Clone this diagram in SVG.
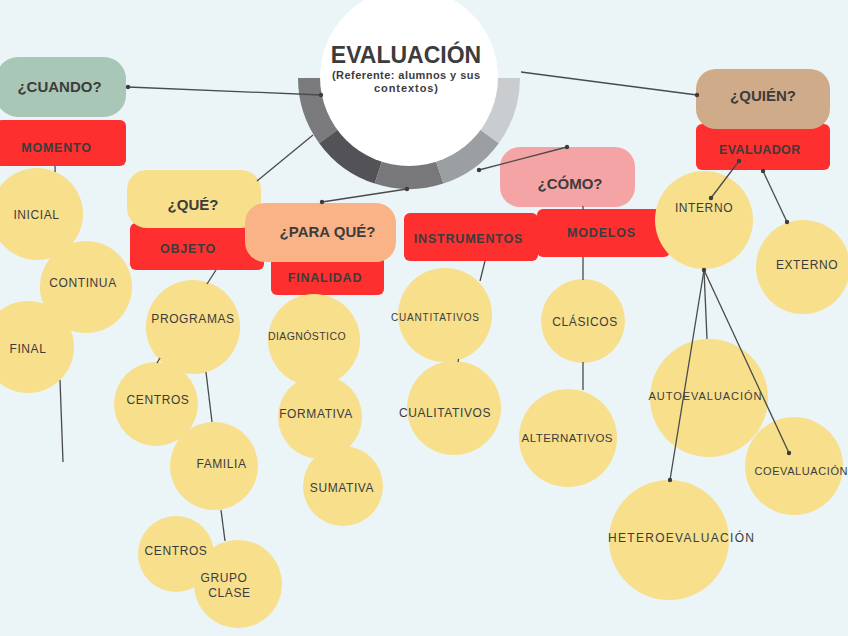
<svg xmlns="http://www.w3.org/2000/svg" width="848" height="636" viewBox="0 0 848 636">
<defs>
<style>
text{font-family:"Liberation Sans",Arial,sans-serif;fill:#3c3c3c;text-anchor:middle}
.h{font-size:15px;font-weight:bold}
.r{font-size:12.5px;font-weight:bold;letter-spacing:0.8px}
.c{font-size:12px;letter-spacing:0.6px}
.s{font-size:10.5px;letter-spacing:0.4px}
.red{fill:#fd2f2f}
.yel{fill:#f7df8c}
.ln{stroke:#4a4a4a;stroke-width:1.3;fill:none}
.dot{fill:#3c3c3c}
</style>
</defs>
<rect width="848" height="636" fill="#ebf4f6"/>

<g id="evaluacion">
<path d="M298,78 A111,111 0 0 0 319.2,143.2 L344.3,125 A80,80 0 0 1 329,78 Z" fill="#7b7b7e"/>
<path d="M319.2,143.2 A111,111 0 0 0 374.7,183.6 L384.3,154.1 A80,80 0 0 1 344.3,125 Z" fill="#535257"/>
<path d="M374.7,183.6 A111,111 0 0 0 443.3,183.6 L433.7,154.1 A80,80 0 0 1 384.3,154.1 Z" fill="#78787b"/>
<path d="M443.3,183.6 A111,111 0 0 0 498.8,143.2 L473.7,125 A80,80 0 0 1 433.7,154.1 Z" fill="#9b9fa2"/>
<path d="M498.8,143.2 A111,111 0 0 0 520,78 L489,78 A80,80 0 0 1 473.7,125 Z" fill="#c9cdd0"/>
<circle cx="409" cy="77" r="89" fill="#ffffff"/>
<text x="406" y="63" style="font-size:23px;font-weight:bold">EVALUACIÓN</text>
<text x="406" y="79" style="font-size:11px;font-weight:bold" textLength="148" lengthAdjust="spacing">(Referente: alumnos y sus</text>
<text x="406" y="92" style="font-size:11px;font-weight:bold" textLength="64" lengthAdjust="spacing">contextos)</text>
</g>

<g id="cuando">
<rect x="-4" y="57" width="130" height="60" rx="22" fill="#a8c7b7"/>
<text class="h" x="59.5" y="92">¿CUANDO?</text>
</g>
<g id="momento">
<rect class="red" x="-4" y="120" width="130" height="46" rx="6"/>
<text class="r" x="56.5" y="152">MOMENTO</text>
</g>
<g id="inicial"><circle class="yel" cx="37" cy="214" r="46"/><text class="c" x="36.5" y="219">INICIAL</text></g>
<g id="continua"><circle class="yel" cx="86" cy="287" r="46"/><text class="c" x="83" y="287">CONTINUA</text></g>
<g id="final"><circle class="yel" cx="28" cy="347" r="46"/><text class="c" x="28" y="353">FINAL</text></g>

<g id="objeto">
<rect class="red" x="130" y="223" width="134" height="47" rx="6"/>
<text class="r" x="188" y="253">OBJETO</text>
</g>
<g id="que">
<rect x="127" y="170" width="134" height="58" rx="20" fill="#f7df8c"/>
<text class="h" x="193" y="210">¿QUÉ?</text>
</g>
<g id="finalidad">
<rect class="red" x="271" y="250" width="113" height="45" rx="6"/>
<text class="r" x="325" y="282">FINALIDAD</text>
</g>
<g id="paraque">
<rect x="245" y="203" width="151" height="59" rx="20" fill="#f9b387"/>
<text class="h" x="327.5" y="237">¿PARA QUÉ?</text>
</g>
<g id="programas"><circle class="yel" cx="193" cy="327" r="47"/><text class="c" x="193" y="323">PROGRAMAS</text></g>
<g id="centros1"><circle class="yel" cx="156" cy="404" r="42"/><text class="c" x="158" y="404">CENTROS</text></g>
<g id="familia"><circle class="yel" cx="214" cy="466" r="44"/><text class="c" x="221.5" y="468">FAMILIA</text></g>
<g id="centros2"><circle class="yel" cx="176" cy="554" r="38"/><text class="c" x="176" y="555">CENTROS</text></g>
<g id="grupoclase"><circle class="yel" cx="238" cy="584" r="44"/><text class="c" x="224" y="582">GRUPO</text><text class="c" x="229.5" y="597">CLASE</text></g>

<g id="diagnostico"><circle class="yel" cx="314" cy="340" r="46"/><text class="s" x="307" y="340">DIAGNÓSTICO</text></g>
<g id="formativa"><circle class="yel" cx="320" cy="417" r="42"/><text class="c" x="316" y="418">FORMATIVA</text></g>
<g id="sumativa"><circle class="yel" cx="343" cy="486" r="40"/><text class="c" x="342" y="492">SUMATIVA</text></g>

<g id="instrumentos">
<rect class="red" x="404" y="213" width="134" height="48" rx="6"/>
<text class="r" x="468.5" y="243">INSTRUMENTOS</text>
</g>
<g id="modelos">
<rect class="red" x="537" y="209" width="133" height="48" rx="6"/>
<text class="r" x="601.5" y="237">MODELOS</text>
</g>
<g id="como">
<rect x="500" y="147" width="135" height="60" rx="20" fill="#f5a4a6"/>
<text class="h" x="570" y="189">¿CÓMO?</text>
</g>
<g id="cuantitativos"><circle class="yel" cx="445" cy="315" r="47"/><text x="435" y="321" style="font-size:10px" textLength="88" lengthAdjust="spacing">CUANTITATIVOS</text></g>
<g id="cualitativos"><circle class="yel" cx="454" cy="408" r="47"/><text class="c" x="445" y="417">CUALITATIVOS</text></g>
<g id="clasicos"><circle class="yel" cx="583" cy="321" r="42"/><text class="c" x="585" y="326">CLÁSICOS</text></g>
<g id="alternativos"><circle class="yel" cx="568" cy="438" r="49"/><text x="567" y="442" style="font-size:11.5px" textLength="91" lengthAdjust="spacing">ALTERNATIVOS</text></g>

<g id="quien">
<rect class="red" x="696" y="124" width="134" height="46" rx="6"/>
<rect x="696" y="69" width="134" height="60" rx="20" fill="#cfab89"/>
<text class="h" x="763" y="101">¿QUIÉN?</text>
<text class="r" x="760" y="154" textLength="82" lengthAdjust="spacing">EVALUADOR</text>
</g>
<g id="interno"><circle class="yel" cx="704" cy="220" r="49"/><text class="c" x="704" y="212">INTERNO</text></g>
<g id="externo"><circle class="yel" cx="803" cy="267" r="47"/><text class="c" x="807" y="269">EXTERNO</text></g>
<g id="autoevaluacion"><circle class="yel" cx="709" cy="398" r="59"/><text x="705" y="400" style="font-size:11px" textLength="113" lengthAdjust="spacing">AUTOEVALUACIÓN</text></g>
<g id="coevaluacion"><circle class="yel" cx="794" cy="466" r="49"/><text x="801" y="475" style="font-size:11px" textLength="93" lengthAdjust="spacing">COEVALUACIÓN</text></g>
<g id="heteroevaluacion"><circle class="yel" cx="669" cy="540" r="60"/><text x="681" y="542" style="font-size:12px" textLength="146" lengthAdjust="spacing">HETEROEVALUACIÓN</text></g>

<g id="connectors">
<line class="ln" x1="128" y1="87" x2="321" y2="95"/>
<circle class="dot" cx="128" cy="87" r="2.2"/><circle class="dot" cx="321" cy="95" r="2.2"/>
<line class="ln" x1="257" y1="181" x2="313" y2="135"/>
<line class="ln" x1="322" y1="202" x2="407" y2="189"/>
<circle class="dot" cx="322" cy="202" r="2.2"/><circle class="dot" cx="407" cy="189" r="2.2"/>
<line class="ln" x1="567" y1="147" x2="479" y2="170"/>
<circle class="dot" cx="567" cy="147" r="2.2"/><circle class="dot" cx="479" cy="170" r="2.2"/>
<line class="ln" x1="521" y1="72" x2="697" y2="95"/>
<circle class="dot" cx="697" cy="95" r="2.2"/>
<line class="ln" x1="55" y1="166" x2="55.2" y2="172"/>
<line class="ln" x1="60" y1="380" x2="63" y2="462"/>
<line class="ln" x1="216" y1="270" x2="207" y2="284"/>
<line class="ln" x1="160" y1="358" x2="157" y2="363"/>
<line class="ln" x1="206" y1="372" x2="212" y2="422"/>
<line class="ln" x1="221" y1="510" x2="225" y2="541"/>
<line class="ln" x1="485" y1="261" x2="480" y2="281"/>
<line class="ln" x1="458.6" y1="359" x2="458" y2="362"/>
<line class="ln" x1="583" y1="206" x2="583" y2="210"/>
<line class="ln" x1="583" y1="257" x2="583" y2="280"/>
<line class="ln" x1="583" y1="362" x2="583" y2="390"/>
<line class="ln" x1="739" y1="161" x2="711" y2="198"/>
<circle class="dot" cx="739" cy="161" r="2.2"/><circle class="dot" cx="711" cy="198" r="2.2"/>
<line class="ln" x1="763" y1="171" x2="787" y2="222"/>
<circle class="dot" cx="763" cy="171" r="2.2"/><circle class="dot" cx="787" cy="222" r="2.2"/>
<line class="ln" x1="704" y1="270" x2="707" y2="339"/>
<line class="ln" x1="704" y1="270" x2="670" y2="480"/>
<line class="ln" x1="704" y1="270" x2="789" y2="453"/>
<circle class="dot" cx="704" cy="270" r="2.2"/><circle class="dot" cx="670" cy="480" r="2.2"/><circle class="dot" cx="789" cy="453" r="2.2"/>
</g>
</svg>
